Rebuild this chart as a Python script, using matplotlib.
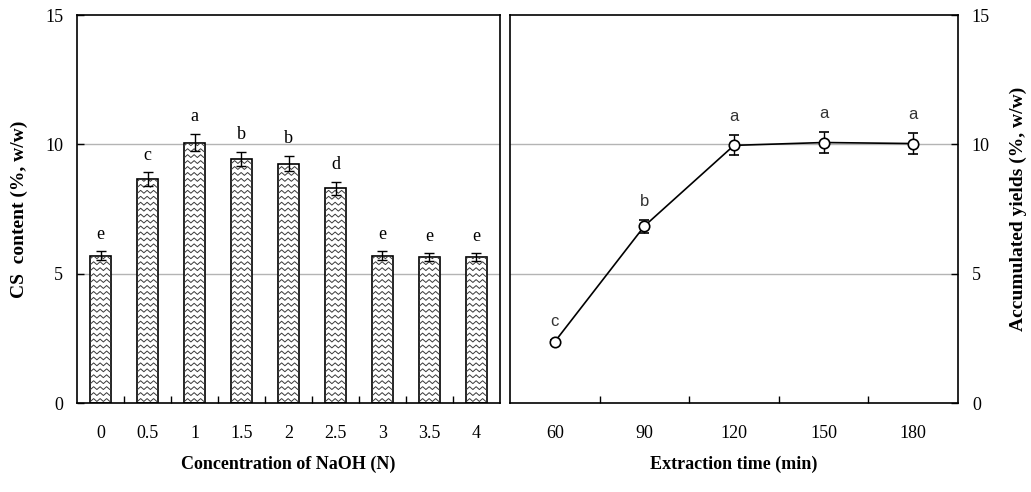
import matplotlib
matplotlib.use("Agg")
import matplotlib.pyplot as plt
from matplotlib.collections import LineCollection
from matplotlib.ticker import FixedLocator
import numpy as np

plt.rcParams['font.family'] = ['Liberation Serif', 'DejaVu Serif']

# left panel: CS content vs NaOH concentration
naoh = ['0', '0.5', '1', '1.5', '2', '2.5', '3', '3.5', '4']
cs_content = [5.7, 8.65, 10.07, 9.43, 9.25, 8.3, 5.7, 5.64, 5.64]
cs_err = [0.16, 0.27, 0.33, 0.28, 0.3, 0.25, 0.17, 0.15, 0.15]
cs_letters = ['e', 'c', 'a', 'b', 'b', 'd', 'e', 'e', 'e']

# right panel: accumulated yields vs extraction time
ext_time = [60, 90, 120, 150, 180]
yields = [2.37, 6.84, 9.96, 10.07, 10.03]
yields_err = [0.06, 0.25, 0.39, 0.41, 0.42]
yields_letters = ['c', 'b', 'a', 'a', 'a']

fig = plt.figure(figsize=(10.31, 4.92), dpi=100)
ax1 = fig.add_axes([77 / 1031, 1 - 403 / 492, 423 / 1031, 388 / 492])
ax2 = fig.add_axes([510 / 1031, 1 - 403 / 492, 448 / 1031, 388 / 492])

grid_kw = dict(color='#b4b4b4', linewidth=1.0, zorder=0)

# ---- left: bars with zigzag fill
xpos = np.arange(len(naoh))
ax1.set_xlim(-0.5, len(naoh) - 0.5)
ax1.set_ylim(0, 15)
for g in (5, 10):
    ax1.axhline(g, **grid_kw)
bars = ax1.bar(xpos, cs_content, width=0.43, color='white', edgecolor='black',
               linewidth=1.2, zorder=2)
ax1.errorbar(xpos, cs_content, yerr=cs_err, fmt='none', ecolor='black',
             elinewidth=1.0, capsize=3.3, capthick=1.0, zorder=4)

# zigzag hatch drawn inside each bar (sizes in data units, a few pixels)
period = 0.138
amp = 0.055
dy = 0.23
for b in bars:
    x0, w, h = b.get_x(), b.get_width(), b.get_height()
    xs = np.arange(x0 - period, x0 + w + period, period / 2)
    segs = []
    for y0 in np.arange(dy / 2, h + dy, dy):
        ys = y0 + amp * np.where(np.arange(len(xs)) % 2 == 0, -1, 1)
        segs.append(np.column_stack([xs, ys]))
    lc = LineCollection(segs, colors='#3a3a3a', linewidths=0.7, zorder=3)
    ax1.add_collection(lc)
    lc.set_clip_path(b)

for x, v, e, t in zip(xpos, cs_content, cs_err, cs_letters):
    ax1.annotate(t, (x, v + e), xytext=(0, 9), textcoords='offset points',
                 ha='center', va='baseline', fontsize=13)

ax1.set_xticks(xpos)
ax1.set_xticklabels(naoh)
ax1.xaxis.set_minor_locator(FixedLocator(xpos[:-1] + 0.5))
ax1.tick_params(axis='x', which='major', length=0, pad=16, labelsize=13)
ax1.tick_params(axis='x', which='minor', direction='in', length=5, width=1)
ax1.set_yticks([0, 5, 10, 15])
ax1.tick_params(axis='y', direction='in', length=5, width=1, pad=10, labelsize=13)
ax1.set_xlabel('Concentration of NaOH (N)', fontsize=13, fontweight='bold', labelpad=10)
ax1.set_ylabel('CS  content (%, w/w)', fontsize=14, fontweight='bold', labelpad=12)

# ---- right: line with open circles
ax2.set_xlim(45, 195)
ax2.set_ylim(0, 15)
for g in (5, 10):
    ax2.axhline(g, **grid_kw)
ax2.errorbar(ext_time, yields, yerr=yields_err, fmt='-o', color='black',
             markerfacecolor='white', markeredgecolor='black', markersize=7.5,
             markeredgewidth=1.2, linewidth=1.2, elinewidth=1.0, capsize=3.6,
             capthick=1.0, zorder=4)
for x, v, e, t in zip(ext_time, yields, yields_err, yields_letters):
    ax2.annotate(t, (x, v + e), xytext=(0, 10), textcoords='offset points',
                 ha='center', va='baseline', fontsize=12, color='#333333',
                 family=['Liberation Sans', 'DejaVu Sans'])

ax2.set_xticks(ext_time)
ax2.xaxis.set_minor_locator(FixedLocator([75, 105, 135, 165]))
ax2.tick_params(axis='x', which='major', length=0, pad=16, labelsize=13)
ax2.tick_params(axis='x', which='minor', direction='in', length=5, width=1)
ax2.set_yticks([0, 5, 10, 15])
ax2.yaxis.tick_right()
ax2.yaxis.set_label_position('right')
ax2.tick_params(axis='y', direction='in', length=5, width=1, pad=10, labelsize=13)
ax2.set_xlabel('Extraction time (min)', fontsize=13, fontweight='bold', labelpad=10)
ax2.set_ylabel('Accumulated yields (%, w/w)', fontsize=14, fontweight='bold',
               rotation=90, labelpad=14)

for ax in (ax1, ax2):
    for s in ax.spines.values():
        s.set_linewidth(1.2)

fig.savefig('out.png', dpi=100)
